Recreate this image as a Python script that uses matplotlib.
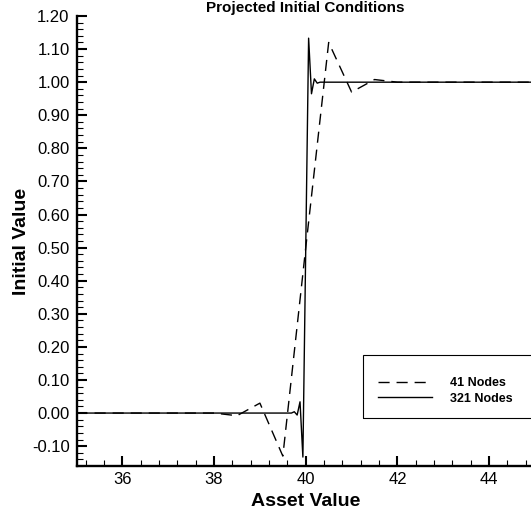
import matplotlib
matplotlib.use("Agg")
import matplotlib.pyplot as plt
from matplotlib.patches import Rectangle
from matplotlib.ticker import MultipleLocator, FormatStrFormatter

plt.rcParams["font.family"] = ["Liberation Sans", "DejaVu Sans"]

# 41-node projection (spacing 0.5)
x_41 = [35.0, 35.5, 36.0, 36.5, 37.0, 37.5, 38.0, 38.5, 39.0, 39.5, 40.0,
        40.5, 41.0, 41.5, 42.0, 42.5, 43.0, 43.5, 44.0, 44.5, 45.0]
y_41 = [0.0, 0.0, 0.0, 0.0, 0.0, 0.0, 0.0, -0.008, 0.03, -0.13, 0.5,
        1.12, 0.97, 1.008, 1.0, 1.0, 1.0, 1.0, 1.0, 1.0, 1.0]

# 321-node projection (only nodes near the jump differ from 0 / 1)
x_321 = [35.0, 39.6875, 39.75, 39.8125, 39.875, 39.9375, 40.0, 40.0625,
         40.125, 40.1875, 40.25, 40.3125, 45.0]
y_321 = [0.0, 0.0, 0.004, -0.006, 0.034, -0.133, 0.5, 1.133,
         0.965, 1.01, 0.997, 1.0, 1.0]

labels = ["41 Nodes", "321 Nodes"]

fig = plt.figure(figsize=(5.31, 5.12), dpi=100)
# right end of the axis (x = 45) falls just past the image edge, as in the original
ax = fig.add_axes([76.5 / 531, 46 / 512, 458.5 / 531, 450 / 512])

ax.plot(x_41, y_41, color="black", lw=1.0, dashes=(8, 5), label=labels[0])
ax.plot(x_321, y_321, color="black", lw=1.0, label=labels[1])

ax.set_xlim(35, 45)
ax.set_ylim(-0.16, 1.2)

ax.xaxis.set_major_locator(MultipleLocator(2))
ax.xaxis.set_minor_locator(MultipleLocator(0.4))
ax.yaxis.set_major_locator(MultipleLocator(0.1))
ax.yaxis.set_minor_locator(MultipleLocator(0.02))
ax.yaxis.set_major_formatter(FormatStrFormatter("%.2f"))

ax.tick_params(which="both", direction="in", top=False, right=False,
               labelsize=12, color="black")
ax.tick_params(which="major", length=7, width=1.5)
ax.tick_params(which="minor", length=4, width=0.8)
ax.tick_params(axis="x", which="major", pad=4)
ax.tick_params(axis="y", which="major", pad=5)

for side in ["top", "right"]:
    ax.spines[side].set_visible(False)
for side in ["left", "bottom"]:
    ax.spines[side].set_linewidth(1.7)

ax.set_xlabel("Asset Value", fontsize=14, fontweight="bold")
ax.set_ylabel("Initial Value", fontsize=14, fontweight="bold")
ax.xaxis.set_label_coords(0.5, -0.06)
ax.yaxis.set_label_coords(-0.102, 0.5)
ax.set_title("Projected Initial Conditions", fontsize=11, fontweight="bold",
             pad=3)

# legend box runs off the right edge of the image in the original
fig.patches.append(Rectangle((363 / 531, 1 - 418 / 512), 200 / 531, 63 / 512,
                             transform=fig.transFigure, fill=False,
                             ec="black", lw=0.8))
ax.legend(loc="upper left", bbox_to_anchor=(378 / 531, 1 - 377 / 512),
          bbox_transform=fig.transFigure, borderaxespad=0, borderpad=0,
          frameon=False, handlelength=4.3, handletextpad=1.45,
          labelspacing=0.3, prop={"size": 9, "weight": "bold"})

fig.savefig("out.png", dpi=100)
